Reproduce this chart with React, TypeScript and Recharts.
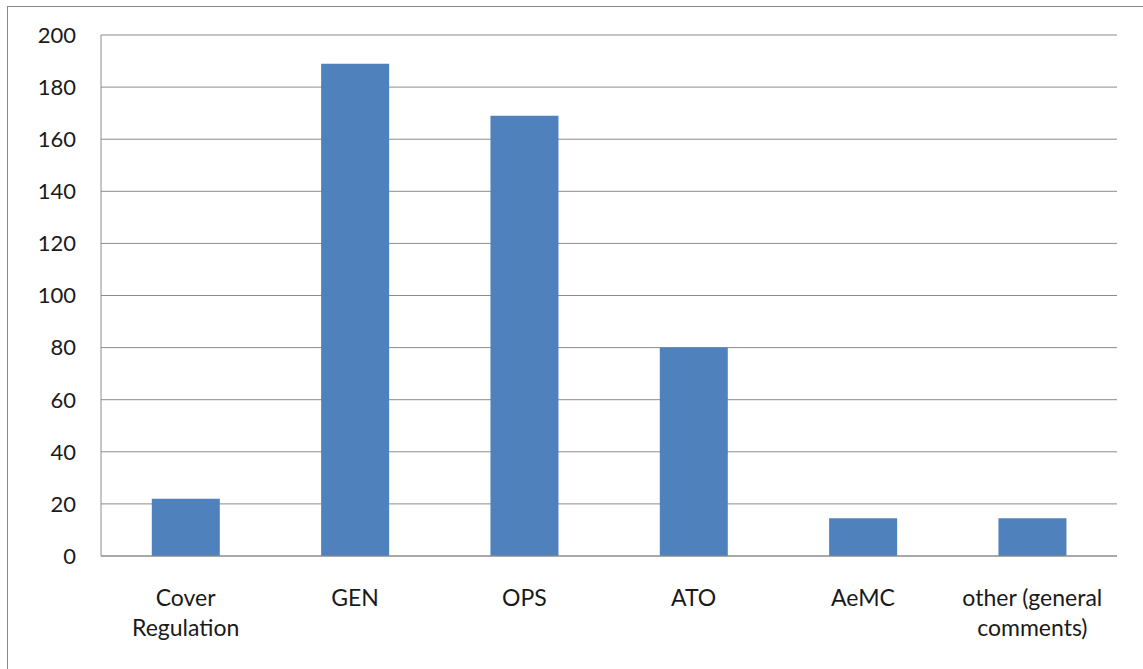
import { BarChart, Bar, XAxis, YAxis, CartesianGrid } from 'recharts';

const categories = ['Cover\nRegulation', 'GEN', 'OPS', 'ATO', 'AeMC', 'other (general\ncomments)'];
const counts = [22, 189, 169, 80, 14.5, 14.5];
const yTicks = [0, 20, 40, 60, 80, 100, 120, 140, 160, 180, 200];

const data = categories.map((name, i) => ({ name, value: counts[i] }));

const FONT = 'Lato, "Open Sans", sans-serif';

const CategoryTick = (props: any) => {
  const { x, y, payload } = props;
  const lines = String(payload.value).split('\n');
  return (
    <text x={x} y={y + 42} textAnchor="middle" fill="#1a1a1a" fontSize={23} fontFamily={FONT}>
      {lines.map((line, i) => (
        <tspan key={i} x={x} dy={i === 0 ? 0 : 30}>
          {line}
        </tspan>
      ))}
    </text>
  );
};

export default function App() {
  return (
    <div style={{ position: 'absolute', left: 0, top: 0, width: 1143, height: 669, background: '#fff', overflow: 'hidden' }}>
      <div
        style={{
          position: 'absolute',
          left: 7,
          top: 6,
          width: 1160,
          height: 700,
          border: '1px solid #8a8a8a',
        }}
      />
      <BarChart
        width={1143}
        height={669}
        data={data}
        margin={{ top: 35, right: 26, bottom: 53, left: 41 }}
        barCategoryGap="30%"
      >
        <CartesianGrid vertical={false} stroke="#8c8c8c" strokeWidth={1} />
        <XAxis
          dataKey="name"
          height={60}
          tickLine={false}
          axisLine={{ stroke: '#8c8c8c' }}
          tick={<CategoryTick />}
          interval={0}
        />
        <YAxis
          width={60}
          domain={[0, 200]}
          ticks={yTicks}
          tickLine={false}
          axisLine={{ stroke: '#8c8c8c' }}
          tickMargin={19}
          tick={{ fill: '#1a1a1a', fontSize: 22, fontFamily: FONT }}
        />
        <Bar dataKey="value" fill="#4F81BD" isAnimationActive={false} />
      </BarChart>
    </div>
  );
}
